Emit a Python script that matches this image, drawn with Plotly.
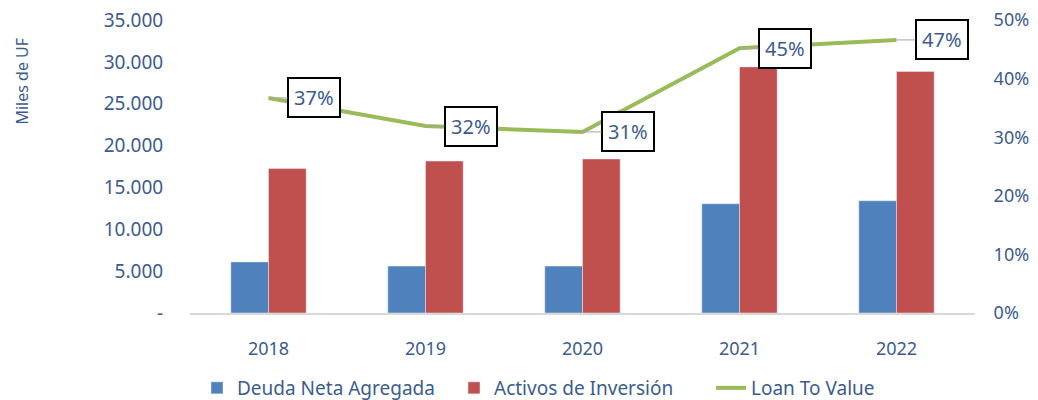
import plotly.graph_objects as go

years = ["2018", "2019", "2020", "2021", "2022"]
deuda_neta = [6100, 5600, 5600, 13050, 13400]
activos_inversion = [17250, 18150, 18400, 29400, 28850]
loan_to_value = [0.367, 0.319, 0.309, 0.452, 0.466]

left_ticks = [0, 5000, 10000, 15000, 20000, 25000, 30000, 35000]
left_tick_text = ["-", "5.000", "10.000", "15.000", "20.000", "25.000", "30.000", "35.000"]

TEXT_COLOR = "#3C5C8E"
FONT = "Noto Sans"
NO_TICK = "rgba(0,0,0,0)"

fig = go.Figure()
fig.add_trace(go.Bar(x=years, y=deuda_neta, name="Deuda Neta Agregada", marker_color="#4F81BD"))
fig.add_trace(go.Bar(x=years, y=activos_inversion, name="Activos de Inversión", marker_color="#C0504D"))
fig.add_trace(go.Scatter(
    x=years, y=loan_to_value, name="Loan To Value", yaxis="y2", mode="lines",
    line={"color": "#9BBB59", "width": 4},
))

# category axis: annotations take the category index
for i, ltv in enumerate(loan_to_value):
    fig.add_annotation(
        x=i, y=ltv, xref="x", yref="y2", text=f"{ltv:.0%}",
        showarrow=True, arrowhead=0, arrowwidth=1, arrowcolor="#A6A6A6",
        ax=45, ay=0, standoff=0,
        bgcolor="white", bordercolor="black", borderwidth=2, borderpad=5,
        font={"size": 20, "color": TEXT_COLOR, "family": FONT},
    )

# y-axis title as an annotation so the margins stay fixed
fig.add_annotation(
    text="Miles de UF", xref="paper", yref="paper", x=-0.214, y=0.79,
    xanchor="center", yanchor="middle",
    textangle=-90, showarrow=False, font={"size": 16, "color": TEXT_COLOR},
)

# page body adds an 8px offset, so the figure is 8px smaller than the window
fig.update_layout(
    width=1030,
    height=392,
    paper_bgcolor="white",
    plot_bgcolor="white",
    font={"family": FONT, "color": TEXT_COLOR, "size": 17},
    margin={"l": 182, "r": 63, "t": 12, "b": 87, "autoexpand": False},
    barmode="group",
    bargap=0.52,
    bargroupgap=0,
    xaxis={
        "type": "category", "range": [-0.5, len(years) - 0.5], "autorange": False,
        "showline": True, "linecolor": "#D9D9D9", "linewidth": 2, "automargin": False,
        "showgrid": False, "ticks": "outside", "ticklen": 18, "tickcolor": NO_TICK,
        "tickfont": {"size": 18, "color": TEXT_COLOR},
    },
    yaxis={
        "range": [0, 35000], "tickvals": left_ticks, "ticktext": left_tick_text, "automargin": False,
        "showgrid": False, "zeroline": False, "ticks": "outside", "ticklen": 22, "tickcolor": NO_TICK,
        "tickfont": {"size": 19, "color": TEXT_COLOR}, "ticklabeloverflow": "allow",
    },
    yaxis2={
        "range": [0, 0.5], "dtick": 0.1, "tickformat": ".0%", "overlaying": "y", "side": "right",
        "showgrid": False, "zeroline": False, "ticks": "outside", "ticklen": 14, "tickcolor": NO_TICK,
        "tickfont": {"size": 18, "color": TEXT_COLOR}, "automargin": False, "ticklabeloverflow": "allow",
    },
    legend={
        "orientation": "h", "x": 0.5, "xanchor": "center", "y": -0.256, "yanchor": "middle",
        "font": {"size": 19, "color": TEXT_COLOR}, "traceorder": "normal",
        "entrywidth": 212,
    },
)

fig.write_html("out.html")
